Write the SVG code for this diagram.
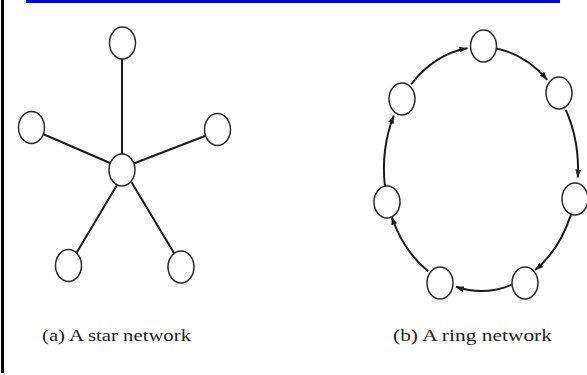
<svg xmlns="http://www.w3.org/2000/svg" width="587" height="375" viewBox="0 0 587 375">
  <style>
    .node { fill: #ffffff; stroke: #2a2a2a; stroke-width: 1.5; }
    .link { fill: none; stroke: #1a1a1a; stroke-width: 2; stroke-linecap: round; }
    .ring { fill: none; stroke: #1a1a1a; stroke-width: 2; marker-end: url(#arrow); }
    .caption { font-family: "Liberation Serif", "Times New Roman", serif; font-size: 17px; fill: #222222; }
  </style>
  <defs>
    <marker id="arrow" markerUnits="userSpaceOnUse" markerWidth="8" markerHeight="6" refX="8" refY="3" orient="auto">
      <path d="M0,0 L8,3 L0,6 z" fill="#1a1a1a"/>
    </marker>
  </defs>
  <rect width="587" height="375" fill="#ffffff"/>
  <rect x="26" y="0" width="534" height="3" fill="#0000ff"/>
  <rect x="1" y="0" width="3" height="373" fill="#000000"/>

  <g id="star-connectors">
    <line class="link" x1="122" y1="59" x2="122" y2="154"/>
    <line class="link" x1="43" y1="134" x2="110" y2="163"/>
    <line class="link" x1="205" y1="136" x2="135" y2="163"/>
    <line class="link" x1="117" y1="185" x2="77" y2="252"/>
    <line class="link" x1="132" y1="183" x2="174" y2="253"/>
  </g>
  <g id="star-top"><ellipse class="node" cx="122.5" cy="43" rx="13" ry="16"/></g>
  <g id="star-left"><ellipse class="node" cx="31.5" cy="127.5" rx="13" ry="16"/></g>
  <g id="star-right"><ellipse class="node" cx="217.5" cy="129.5" rx="13" ry="16"/></g>
  <g id="star-center"><ellipse class="node" cx="122" cy="170" rx="13" ry="16"/></g>
  <g id="star-bottom-left"><ellipse class="node" cx="68.5" cy="265.5" rx="13" ry="16"/></g>
  <g id="star-bottom-right"><ellipse class="node" cx="181" cy="267" rx="13" ry="16"/></g>

  <g id="ring-connectors">
    <path class="ring" d="M411.2,84.25 A97,122 0 0 1 467.5,48.2"/>
    <path class="ring" d="M496.2,48.5 A97,122 0 0 1 547.2,79.8"/>
    <path class="ring" d="M565.8,109.9 A97,122 0 0 1 577.8,177.5"/>
    <path class="ring" d="M570.9,214.7 A97,122 0 0 1 535.2,270.1"/>
    <path class="ring" d="M512.6,284.4 A97,122 0 0 1 455.9,286.8"/>
    <path class="ring" d="M428.2,271.3 A97,122 0 0 1 391.7,216.7"/>
    <path class="ring" d="M384.9,186 A97,122 0 0 1 393.8,115.5"/>
  </g>
  <g id="ring-top"><ellipse class="node" cx="483.5" cy="46" rx="13" ry="16"/></g>
  <g id="ring-top-right"><ellipse class="node" cx="559" cy="93" rx="13" ry="16"/></g>
  <g id="ring-right"><ellipse class="node" cx="575" cy="199" rx="13" ry="16"/></g>
  <g id="ring-bottom-right"><ellipse class="node" cx="525" cy="283" rx="13" ry="16"/></g>
  <g id="ring-bottom-left"><ellipse class="node" cx="440" cy="283" rx="13" ry="16"/></g>
  <g id="ring-left"><ellipse class="node" cx="387" cy="202" rx="13" ry="16"/></g>
  <g id="ring-top-left"><ellipse class="node" cx="402" cy="99" rx="13" ry="16"/></g>

  <text class="caption" x="42" y="341" textLength="149" lengthAdjust="spacingAndGlyphs">(a) A star network</text>
  <text class="caption" x="393" y="341" textLength="159" lengthAdjust="spacingAndGlyphs">(b) A ring network</text>
</svg>
